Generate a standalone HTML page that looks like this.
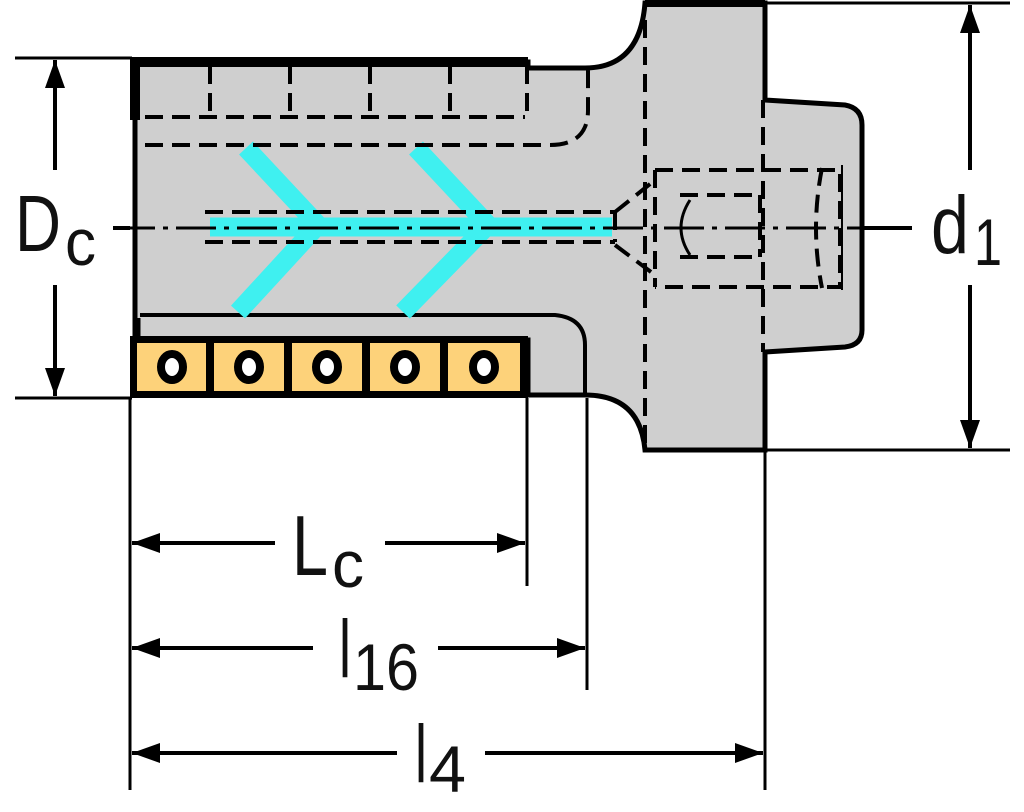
<!DOCTYPE html>
<html><head><meta charset="utf-8"><style>
html,body{margin:0;padding:0;background:#fff;width:1024px;height:812px;overflow:hidden}
text{font-family:"Liberation Sans",sans-serif;fill:#111}
</style></head><body>
<svg width="1024" height="812" viewBox="0 0 1024 812" xmlns="http://www.w3.org/2000/svg">
<defs>
<marker id="a" viewBox="0 0 28 20" refX="28" refY="10" markerWidth="28" markerHeight="20" markerUnits="userSpaceOnUse" orient="auto-start-reverse"><path d="M0,0 L28,10 L0,20z" fill="#000"/></marker>
</defs>
<g stroke="#000" stroke-width="3" fill="none">
<line x1="15" y1="58" x2="132" y2="58"/>
<line x1="15" y1="398" x2="132" y2="398"/>
<line x1="765" y1="3" x2="1010" y2="3"/>
<line x1="765" y1="450" x2="1010" y2="450"/>
<line x1="130" y1="398" x2="130" y2="790"/>
<line x1="527" y1="398" x2="527" y2="586"/>
<line x1="587" y1="398" x2="587" y2="690"/>
<line x1="765" y1="450" x2="765" y2="790"/>
</g>
<path d="M135,62 L528,62 L528,68 L585,68 Q640,68 645,3 L765,3 L765,100 L845,105 Q862,108 862,125 L862,330 Q862,345 845,347 L765,352 L765,450 L645,450 Q640,395 585,395 L528,395 L528,340 L135,340 Z" fill="#cfcfcf" stroke="#000" stroke-width="5"/>
<path d="M130,62 L528,62" stroke="#000" stroke-width="10"/>
<path d="M135,60 L135,120" stroke="#000" stroke-width="10"/>
<path d="M645,3 L765,3" stroke="#000" stroke-width="8"/>
<path d="M140,315 L555,315 Q585,318 585,345 L585,395" fill="none" stroke="#000" stroke-width="4"/>
<path d="M138,318 L138,338" stroke="#000" stroke-width="5"/>
<g stroke="#3ff0f0" stroke-width="19" fill="none">
<path d="M210,227 L612,227"/>
<path d="M246,148 L318,225 L238,312"/>
<path d="M416,148 L488,225 L403,312"/>
</g>
<g stroke="#000" stroke-width="4" fill="none" stroke-dasharray="18,9">
<path d="M145,117 L525,117"/>
<path d="M210,66 L210,117 M290,66 L290,117 M370,66 L370,117 M450,66 L450,117 M527,66 L527,117"/>
<path d="M145,145 L550,145 Q588,145 588,110 L588,70"/>
<path d="M645,20 L645,445"/>
<path d="M763,100 L763,352"/>
<path d="M655,170 L840,170 L840,287 L655,287"/>
<path d="M680,195 L760,195 M680,257 L760,257 M760,195 L760,257"/>
<path d="M615,212 L655,180 M615,245 L655,275"/>
<path d="M655,170 L655,287"/>
<path d="M822,168 Q810,228 822,288"/>
<path d="M205,212 L615,212 M205,242 L615,242 M615,212 L615,242"/>
</g>
<path d="M690,200 Q672,228 690,255" fill="none" stroke="#000" stroke-width="3"/>
<path d="M842,165 L842,290" stroke="#000" stroke-width="2"/>
<path d="M115,228 L910,228" stroke="#000" stroke-width="3" stroke-dasharray="40,8,5,8"/>
<rect x="130" y="336" width="398" height="62" fill="#000"/>
<g fill="#fdd27a">
<rect x="137" y="343" width="69" height="48"/>
<rect x="214" y="343" width="70" height="48"/>
<rect x="292" y="343" width="70" height="48"/>
<rect x="370" y="343" width="70" height="48"/>
<rect x="448" y="343" width="72" height="48"/>
</g>
<g fill="#fff" stroke="#000" stroke-width="8">
<ellipse cx="172" cy="367" rx="11" ry="13"/>
<ellipse cx="249" cy="367" rx="11" ry="13"/>
<ellipse cx="327" cy="367" rx="11" ry="13"/>
<ellipse cx="405" cy="367" rx="11" ry="13"/>
<ellipse cx="484" cy="367" rx="11" ry="13"/>
</g>
<g stroke="#000" stroke-width="4" fill="none">
<line x1="55" y1="170" x2="55" y2="60" marker-end="url(#a)"/>
<line x1="55" y1="285" x2="55" y2="396" marker-end="url(#a)"/>
<line x1="970" y1="170" x2="970" y2="5" marker-end="url(#a)"/>
<line x1="970" y1="285" x2="970" y2="448" marker-end="url(#a)"/>
<line x1="275" y1="543" x2="132" y2="543" marker-end="url(#a)"/>
<line x1="385" y1="543" x2="525" y2="543" marker-end="url(#a)"/>
<line x1="313" y1="648" x2="132" y2="648" marker-end="url(#a)"/>
<line x1="438" y1="648" x2="585" y2="648" marker-end="url(#a)"/>
<line x1="397" y1="753" x2="132" y2="753" marker-end="url(#a)"/>
<line x1="485" y1="753" x2="763" y2="753" marker-end="url(#a)"/>
<line x1="113" y1="228" x2="130" y2="228"/>
<line x1="862" y1="228" x2="912" y2="228"/>
</g>
<text x="15" y="251" font-size="80" textLength="46" lengthAdjust="spacingAndGlyphs">D</text>
<text x="65" y="265" font-size="66" textLength="31" lengthAdjust="spacingAndGlyphs">c</text>
<text x="931" y="253" font-size="82" textLength="38" lengthAdjust="spacingAndGlyphs">d</text>
<text x="974" y="265" font-size="66" textLength="28" lengthAdjust="spacingAndGlyphs">1</text>
<text x="292" y="575" font-size="85" textLength="36" lengthAdjust="spacingAndGlyphs">L</text>
<text x="332" y="587" font-size="66" textLength="32" lengthAdjust="spacingAndGlyphs">c</text>
<text x="339" y="677" font-size="82" textLength="12" lengthAdjust="spacingAndGlyphs">l</text>
<text x="353" y="690" font-size="66" textLength="66" lengthAdjust="spacingAndGlyphs">16</text>
<text x="415" y="782" font-size="82" textLength="12" lengthAdjust="spacingAndGlyphs">l</text>
<text x="429" y="792" font-size="66" textLength="37" lengthAdjust="spacingAndGlyphs">4</text>
</svg>
</body></html>
